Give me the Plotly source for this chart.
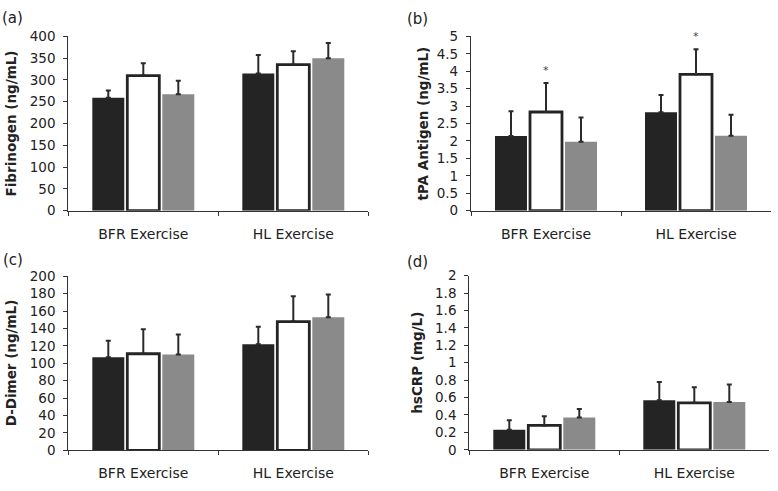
import plotly.graph_objects as go
from plotly.subplots import make_subplots

categories = ["BFR Exercise", "HL Exercise"]

# (a) Fibrinogen
fib_black = [259, 315]
fib_white = [310, 335]
fib_gray = [267, 350]
fib_black_err = [17, 42]
fib_white_err = [28, 31]
fib_gray_err = [31, 35]

# (b) tPA Antigen
tpa_black = [2.14, 2.82]
tpa_white = [2.83, 3.91]
tpa_gray = [1.98, 2.15]
tpa_black_err = [0.71, 0.50]
tpa_white_err = [0.83, 0.72]
tpa_gray_err = [0.69, 0.60]
tpa_star_y = [4.1, 5.09]

# (c) D-Dimer
dd_black = [107, 122]
dd_white = [111, 148]
dd_gray = [110, 153]
dd_black_err = [19, 20]
dd_white_err = [28, 29]
dd_gray_err = [23, 26]

# (d) hsCRP
crp_black = [0.23, 0.57]
crp_white = [0.28, 0.54]
crp_gray = [0.37, 0.55]
crp_black_err = [0.11, 0.21]
crp_white_err = [0.105, 0.18]
crp_gray_err = [0.10, 0.20]

panels = [
    ("(a)", "Fibrinogen (ng/mL)", [fib_black, fib_white, fib_gray],
     [fib_black_err, fib_white_err, fib_gray_err], 400, 50),
    ("(b)", "tPA Antigen (ng/mL)", [tpa_black, tpa_white, tpa_gray],
     [tpa_black_err, tpa_white_err, tpa_gray_err], 5, 0.5),
    ("(c)", "D-Dimer (ng/mL)", [dd_black, dd_white, dd_gray],
     [dd_black_err, dd_white_err, dd_gray_err], 200, 20),
    ("(d)", "hsCRP (mg/L)", [crp_black, crp_white, crp_gray],
     [crp_black_err, crp_white_err, crp_gray_err], 2, 0.2),
]

W, H = 778, 491
# pixel boxes (left, right, top, bottom)
boxes = [
    (68.3, 368.3, 29.3, 209.5),
    (471, 771, 29.3, 209.5),
    (68.3, 368.3, 277.3, 457.3),
    (469.3, 769.3, 276.7, 456.7),
]
label_pos = [(13, 10), (417, 11), (13, 260), (417, 263)]
title_x = [11, 423, 11, 417]

fills = ["#242424", "#ffffff", "#8a8a8a"]
lines = ["#242424", "#242424", "#8a8a8a"]
line_w = [0, 2.8, 0]

FONT = "DejaVu Sans, Liberation Sans, Arial"
AX = "#333333"

fig = make_subplots(rows=2, cols=2)
annotations = []
for i, (lab, title, series, errs, ymax, dt) in enumerate(panels):
    r, c = i // 2 + 1, i % 2 + 1
    for s in range(3):
        fig.add_trace(go.Bar(
            x=categories, y=series[s],
            marker=dict(color=fills[s], line=dict(color=lines[s], width=line_w[s])),
            error_y=dict(type="data", symmetric=False, array=errs[s],
                         arrayminus=[0] * len(errs[s]),
                         color="#2a2a2a", thickness=2, width=2.5),
            showlegend=False,
        ), row=r, col=c)
    l, rr, t, b = boxes[i]
    xa = "xaxis" if i == 0 else f"xaxis{i+1}"
    ya = "yaxis" if i == 0 else f"yaxis{i+1}"
    fig.layout[xa].update(domain=[l / W, rr / W], showline=True, linecolor=AX,
                          linewidth=1.2, ticks="outside", tickson="boundaries",
                          ticklen=4, tickcolor=AX, tickwidth=1.2,
                          tickfont=dict(family=FONT, size=14, color="#222"),
                          showgrid=False, zeroline=False, ticklabelstandoff=10)
    fig.layout[ya].update(domain=[1 - b / H, 1 - t / H], range=[0, ymax], dtick=dt,
                          showline=True, linecolor=AX, linewidth=1.2,
                          ticks="outside", ticklen=4, tickcolor=AX, tickwidth=1.2,
                          tickfont=dict(family=FONT, size=13.5, color="#222"),
                          showgrid=False, zeroline=False, ticklabelstandoff=5)
    annotations.append(dict(text=lab, xref="paper", yref="paper",
                            x=label_pos[i][0] / W, y=1 - label_pos[i][1] / H,
                            xanchor="center", yanchor="middle", showarrow=False,
                            font=dict(family=FONT, size=15, color="#222")))
    annotations.append(dict(text="<b>" + title + "</b>", xref="paper", yref="paper",
                            x=title_x[i] / W, y=1 - (t + b) / 2 / H, textangle=-90,
                            xanchor="center", yanchor="middle", showarrow=False,
                            font=dict(family=FONT, size=13.5, color="#222")))

tpa_ymax = panels[1][4]
for k, cat in enumerate(categories):
    annotations.append(dict(text="*", x=cat, y=tpa_star_y[k] / tpa_ymax,
                            xref="x2", yref="y2 domain",
                            showarrow=False, yanchor="middle", yshift=-3,
                            font=dict(family=FONT, size=11, color="#444")))

fig.update_layout(width=W, height=H, margin=dict(l=0, r=0, t=0, b=0),
                  plot_bgcolor="white", paper_bgcolor="white",
                  barmode="group", bargap=0.3, bargroupgap=0.086,
                  annotations=annotations, showlegend=False)

reset_page = (
    "document.documentElement.style.margin='0px';"
    "document.body.style.margin='0px';"
    "document.body.style.overflow='hidden';"
)
fig.write_html("out.html", config={"displayModeBar": False}, post_script=reset_page)
